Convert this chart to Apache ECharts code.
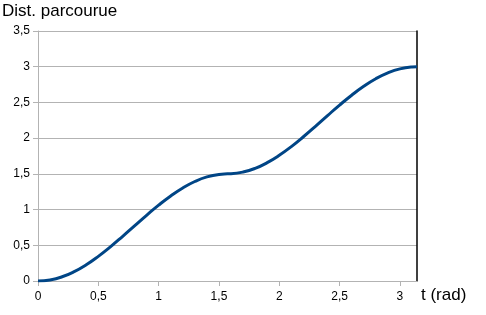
<!DOCTYPE html>
<html><head><meta charset="utf-8">
<script src="https://cdn.jsdelivr.net/npm/echarts@6/dist/echarts.min.js"></script>
<style>html,body{margin:0;padding:0;background:#fff}#c{width:486px;height:315px}</style>
</head><body><div id="c"></div>
<script>
const yTitle = 'Dist. parcourue';
const xTitle = 't (rad)';
const xTicks = [0, 0.5, 1, 1.5, 2, 2.5, 3];
const yTicks = [0, 0.5, 1, 1.5, 2, 2.5, 3, 3.5];
const tValues = [0, 0.1, 0.2, 0.3, 0.4, 0.5, 0.6, 0.7, 0.8, 0.9, 1.0, 1.1, 1.2, 1.3, 1.4, 1.5, 1.5708, 1.6, 1.7, 1.8, 1.9, 2.0, 2.1, 2.2, 2.3, 2.4, 2.5, 2.6, 2.7, 2.8, 2.9, 3.0, 3.1, 3.1416];
const distValues = [0, 0.015, 0.059, 0.131, 0.2275, 0.345, 0.478, 0.6225, 0.772, 0.920, 1.062, 1.191, 1.303, 1.393, 1.457, 1.4925, 1.5, 1.5013, 1.525, 1.577, 1.657, 1.760, 1.882, 2.0195, 2.166, 2.316, 2.463, 2.601, 2.726, 2.832, 2.914, 2.970, 2.997, 3.0];
const X_MAX = 3.1416;

const fmt = v => String(v).replace('.', ',');
const chart = echarts.init(document.getElementById('c'), null, {renderer: 'canvas'});
chart.setOption({
  animation: false,
  textStyle: {fontFamily: 'Liberation Sans, Arial, sans-serif'},
  grid: {left: 38, right: 69, top: 31, bottom: 34, containLabel: false},
  graphic: [
    {type: 'text', left: 2, top: 3, style: {text: yTitle, fontSize: 17, fill: '#000', fontFamily: 'Liberation Sans, Arial, sans-serif'}},
    {type: 'text', left: 421, top: 287, style: {text: xTitle, fontSize: 17, fill: '#000', fontFamily: 'Liberation Sans, Arial, sans-serif'}}
  ],
  xAxis: {
    type: 'value', min: 0, max: X_MAX, interval: 0.5,
    axisLine: {show: true, onZero: false, lineStyle: {color: '#b3b3b3', width: 1}},
    axisTick: {show: true, length: 5, lineStyle: {color: '#b3b3b3'}, customValues: xTicks},
    axisLabel: {color: '#000', fontSize: 12, margin: 10, customValues: xTicks, formatter: fmt},
    splitLine: {show: false}
  },
  yAxis: [{
    type: 'value', min: 0, max: 3.5, interval: 0.5,
    axisLine: {show: true, lineStyle: {color: '#b3b3b3', width: 1}},
    axisTick: {show: true, length: 5, lineStyle: {color: '#b3b3b3'}},
    axisLabel: {color: '#000', fontSize: 12, margin: 8, formatter: fmt},
    splitLine: {show: true, lineStyle: {color: '#b3b3b3', width: 1}}
  }, {
    type: 'value', min: 0, max: 3.5, interval: 0.5, position: 'right',
    axisLine: {show: true, lineStyle: {color: '#000', width: 1.5}},
    axisTick: {show: false}, axisLabel: {show: false}, splitLine: {show: false}
  }],
  series: [{
    type: 'line', smooth: true, showSymbol: false,
    data: tValues.map((t, i) => [t, distValues[i]]),
    lineStyle: {color: '#004586', width: 3},
    itemStyle: {color: '#004586'}
  }]
});
</script></body></html>
